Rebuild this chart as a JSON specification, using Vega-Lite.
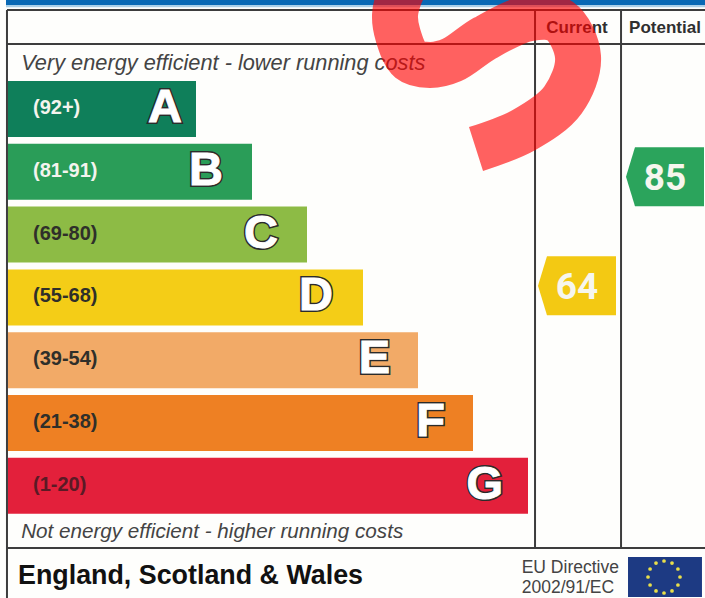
{
"$schema":"https://vega.github.io/schema/vega-lite/v6.json",
"width":705,"height":598,"padding":0,"autosize":{"type":"none"},
"background":"#fefefc",
"config":{"view":{"stroke":null}},
"datasets":{
"bands":[
{"band":"A","range":"(92+)","length":188,"letterAt":174},
{"band":"B","range":"(81-91)","length":244,"letterAt":215},
{"band":"C","range":"(69-80)","length":299,"letterAt":270},
{"band":"D","range":"(55-68)","length":355,"letterAt":325},
{"band":"E","range":"(39-54)","length":410,"letterAt":382},
{"band":"F","range":"(21-38)","length":465,"letterAt":437},
{"band":"G","range":"(1-20)","length":520,"letterAt":495}],
"ratings":[{"column":"Current","rating":64,"fill":"D"},{"column":"Potential","rating":85,"fill":"B"}],
"frame":[
{"x":0.99,"x2":100,"y":1.67,"y2":1.67},
{"x":0.99,"x2":100,"y":7.36,"y2":7.36},
{"x":0.99,"x2":100,"y":91.64,"y2":91.64},
{"x":0.99,"x2":0.99,"y":1.67,"y2":100},
{"x":75.89,"x2":75.89,"y":1.67,"y2":91.64},
{"x":88.09,"x2":88.09,"y":1.67,"y2":91.64}],
"stars":[
{"a":0,"b":-1},{"a":0.5,"b":-0.87},{"a":0.87,"b":-0.5},{"a":1,"b":0},{"a":0.87,"b":0.5},{"a":0.5,"b":0.87},
{"a":0,"b":1},{"a":-0.5,"b":0.87},{"a":-0.87,"b":0.5},{"a":-1,"b":0},{"a":-0.87,"b":-0.5},{"a":-0.5,"b":-0.87}],
"swoosh":[
{"i":1,"u":67.52,"v":24.92},{"i":2,"u":74.33,"v":21.74},{"i":3,"u":79.86,"v":16.72},{"i":4,"u":81.99,"v":9.53},{"i":5,"u":79.43,"v":3.51},
{"i":6,"u":75.18,"v":3.01},{"i":7,"u":68.79,"v":6.35},{"i":8,"u":64.11,"v":10.03},{"i":9,"u":60.99,"v":10.87},{"i":10,"u":58.16,"v":10.03},{"i":11,"u":56.45,"v":5.85},{"i":12,"u":56.03,"v":2.51},{"i":13,"u":56.74,"v":-0.84},{"i":14,"u":57.87,"v":-3.34}]
},
"resolve":{"scale":{"x":"independent","y":"independent","color":"independent"}},
"layer":[
{"data":{"values":[{"x":0.85,"x2":100,"y":0,"y2":0.85,"c":"#0868b4"},{"x":0.85,"x2":100,"y":0.85,"y2":1.2,"c":"#a9cfe8"}]},
 "mark":{"type":"rect"},
 "encoding":{"x":{"field":"x","type":"quantitative","scale":{"domain":[0,100],"range":[0,705]},"axis":null},"x2":{"field":"x2"},
 "y":{"field":"y","type":"quantitative","scale":{"domain":[0,100],"range":[0,598]},"axis":null},"y2":{"field":"y2"},
 "color":{"field":"c","type":"nominal","scale":null,"legend":null}}},
{"data":{"name":"frame"},"mark":{"type":"rule","stroke":"#3d3d3d","strokeWidth":2},
 "encoding":{"x":{"field":"x","type":"quantitative","scale":{"domain":[0,100],"range":[0,705]},"axis":null},"x2":{"field":"x2"},
 "y":{"field":"y","type":"quantitative","scale":{"domain":[0,100],"range":[0,598]},"axis":null},"y2":{"field":"y2"}}},
{"data":{"name":"bands"},"mark":{"type":"bar"},
 "encoding":{"x":{"field":"length","type":"quantitative","scale":{"domain":[-8,697],"range":[0,705]},"axis":null},
 "y":{"field":"band","type":"nominal","scale":{"type":"band","domain":["A","B","C","D","E","F","G"],"range":[81,513.8],"paddingInner":0.108,"paddingOuter":0},"axis":null},
 "color":{"field":"band","type":"nominal","legend":null,"scale":{"domain":["A","B","C","D","E","F","G"],"range":["#0f7f5a","#2a9d58","#8dbb45","#f4cd17","#f2aa67","#ee8023","#e3203b"]}}}},
{"data":{"name":"bands"},"mark":{"type":"text","align":"left","baseline":"middle","font":"Liberation Sans","fontWeight":"bold","fontSize":20,"xOffset":25,"dy":-1},
 "encoding":{"x":{"datum":0,"type":"quantitative","scale":{"domain":[-8,697],"range":[0,705]},"axis":null},
 "y":{"field":"band","type":"nominal","scale":{"type":"band","domain":["A","B","C","D","E","F","G"],"range":[81,513.8],"paddingInner":0.108,"paddingOuter":0},"axis":null},
 "color":{"field":"band","type":"nominal","legend":null,"scale":{"domain":["A","B","C","D","E","F","G"],"range":["#f4f4ee","#f4f4ee","#2f2f2a","#2f2f2a","#2f2f2a","#2f2f2a","#5a1a25"]}},
 "text":{"field":"range"}}},
{"data":{"name":"bands"},"mark":{"type":"text","align":"right","baseline":"middle","font":"Liberation Sans","fontWeight":"bold","fontSize":47,"fill":"#2b2b2b","stroke":"#2b2b2b","strokeWidth":4,"dy":-1},
 "encoding":{"x":{"field":"letterAt","type":"quantitative","scale":{"domain":[-8,697],"range":[0,705]},"axis":null},
 "y":{"field":"band","type":"nominal","scale":{"type":"band","domain":["A","B","C","D","E","F","G"],"range":[81,513.8],"paddingInner":0.108,"paddingOuter":0},"axis":null},
 "text":{"field":"band"}}},
{"data":{"name":"bands"},"mark":{"type":"text","align":"right","baseline":"middle","font":"Liberation Sans","fontWeight":"bold","fontSize":47,"fill":"#ffffff","stroke":"#ffffff","strokeWidth":1,"dy":-1},
 "encoding":{"x":{"field":"letterAt","type":"quantitative","scale":{"domain":[-8,697],"range":[0,705]},"axis":null},
 "y":{"field":"band","type":"nominal","scale":{"type":"band","domain":["A","B","C","D","E","F","G"],"range":[81,513.8],"paddingInner":0.108,"paddingOuter":0},"axis":null},
 "text":{"field":"band"}}},
{"data":{"values":[{"t":"Very energy efficient - lower running costs","x":3,"y":11.7}]},
 "mark":{"type":"text","align":"left","baseline":"alphabetic","font":"Liberation Sans","fontStyle":"italic","fontSize":21.75,"fill":"#444444"},
 "encoding":{"x":{"field":"x","type":"quantitative","scale":{"domain":[0,100],"range":[0,705]},"axis":null},
 "y":{"field":"y","type":"quantitative","scale":{"domain":[0,100],"range":[0,598]},"axis":null},"text":{"field":"t"}}},
{"data":{"values":[{"t":"Not energy efficient - higher running costs","x":3,"y":89.9}]},
 "mark":{"type":"text","align":"left","baseline":"alphabetic","font":"Liberation Sans","fontStyle":"italic","fontSize":20.65,"fill":"#444444"},
 "encoding":{"x":{"field":"x","type":"quantitative","scale":{"domain":[0,100],"range":[0,705]},"axis":null},
 "y":{"field":"y","type":"quantitative","scale":{"domain":[0,100],"range":[0,598]},"axis":null},"text":{"field":"t"}}},
{"data":{"values":[{"column":"Current","y":5.55},{"column":"Potential","y":5.55}]},
 "mark":{"type":"text","align":"center","baseline":"alphabetic","font":"Liberation Sans","fontWeight":"bold","fontSize":17,"fill":"#2f2f2f"},
 "encoding":{"x":{"field":"column","type":"nominal","scale":{"type":"band","domain":["Current","Potential"],"range":[533,709],"paddingInner":0,"paddingOuter":0},"axis":null},
 "y":{"field":"y","type":"quantitative","scale":{"domain":[0,100],"range":[0,598]},"axis":null},"text":{"field":"column"}}},
{"data":{"name":"ratings"},
 "mark":{"type":"point","filled":true,"opacity":1,"shape":"M-1,0L-0.77,-0.756L1,-0.756L1,0.756L-0.77,0.756Z","size":6084},
 "encoding":{"x":{"field":"column","type":"nominal","scale":{"type":"band","domain":["Current","Potential"],"range":[533,709],"paddingInner":0,"paddingOuter":0},"axis":null},
 "y":{"field":"rating","type":"quantitative","scale":{"domain":[0,100],"range":[618,99],"nice":false,"zero":false},"axis":null},
 "color":{"field":"fill","type":"nominal","legend":null,"scale":{"domain":["B","D"],"range":["#2ba45c","#f3c913"]}}}},
{"data":{"name":"ratings"},
 "mark":{"type":"text","align":"center","baseline":"middle","font":"Roboto","fontWeight":"bold","fontSize":37,"fill":"#f6f6ee","dy":2},
 "encoding":{"x":{"field":"column","type":"nominal","scale":{"type":"band","domain":["Current","Potential"],"range":[533,709],"paddingInner":0,"paddingOuter":0},"axis":null},
 "y":{"field":"rating","type":"quantitative","scale":{"domain":[0,100],"range":[618,99],"nice":false,"zero":false},"axis":null},
 "text":{"field":"rating","type":"quantitative"}}},
{"data":{"values":[{"t":"England, Scotland & Wales","x":2.55,"y":97.65}]},
 "mark":{"type":"text","align":"left","baseline":"alphabetic","font":"Liberation Sans","fontWeight":"bold","fontSize":26.85,"fill":"#111111"},
 "encoding":{"x":{"field":"x","type":"quantitative","scale":{"domain":[0,100],"range":[0,705]},"axis":null},
 "y":{"field":"y","type":"quantitative","scale":{"domain":[0,100],"range":[0,598]},"axis":null},"text":{"field":"t"}}},
{"data":{"values":[{"t":"EU Directive","x":74.0,"y":95.8},{"t":"2002/91/EC","x":74.0,"y":99.2}]},
 "mark":{"type":"text","align":"left","baseline":"alphabetic","font":"Liberation Sans","fontSize":17.5,"fill":"#444444"},
 "encoding":{"x":{"field":"x","type":"quantitative","scale":{"domain":[0,100],"range":[0,705]},"axis":null},
 "y":{"field":"y","type":"quantitative","scale":{"domain":[0,100],"range":[0,598]},"axis":null},"text":{"field":"t"}}},
{"data":{"values":[{"x":89.08,"x2":99.57,"y":93.14,"y2":99.83}]},
 "mark":{"type":"rect","fill":"#1d3a83"},
 "encoding":{"x":{"field":"x","type":"quantitative","scale":{"domain":[0,100],"range":[0,705]},"axis":null},"x2":{"field":"x2"},
 "y":{"field":"y","type":"quantitative","scale":{"domain":[0,100],"range":[0,598]},"axis":null},"y2":{"field":"y2"}}},
{"data":{"name":"stars"},"mark":{"type":"point","shape":"circle","filled":true,"opacity":1,"size":14,"fill":"#e9df4a"},
 "encoding":{"x":{"field":"a","type":"quantitative","scale":{"domain":[-1,1],"range":[648,680]},"axis":null},
 "y":{"field":"b","type":"quantitative","scale":{"domain":[-1,1],"range":[561,593]},"axis":null}}},
{"data":{"name":"swoosh"},"mark":{"type":"line","interpolate":"catmull-rom","stroke":"#ff0000","strokeOpacity":0.62,"strokeWidth":46,"strokeCap":"butt","strokeJoin":"round","clip":false},
 "encoding":{"x":{"field":"u","type":"quantitative","scale":{"domain":[0,100],"range":[0,705]},"axis":null},
 "y":{"field":"v","type":"quantitative","scale":{"domain":[0,100],"range":[0,598]},"axis":null},"order":{"field":"i"}}}
]
}
